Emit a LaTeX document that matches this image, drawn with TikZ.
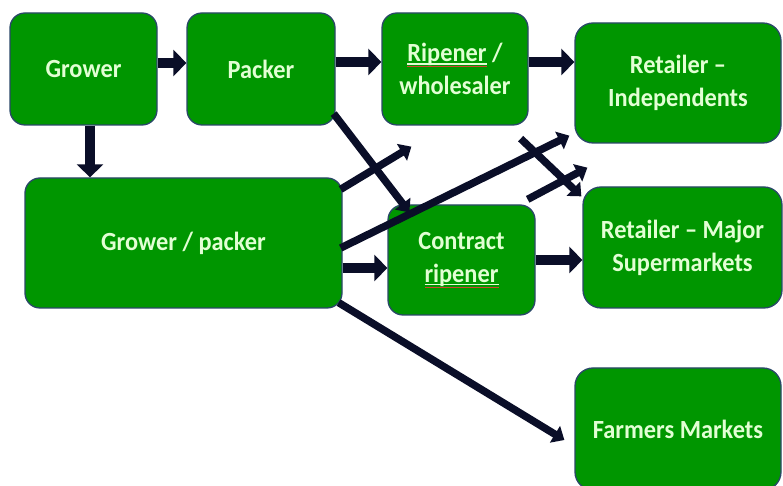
\documentclass[tikz,border=0pt]{standalone}
\usepackage{fontspec}
\setmainfont{Carlito}[FakeStretch=0.93]
\usetikzlibrary{arrows.meta}

\definecolor{boxgreen}{RGB}{0,150,0}
\definecolor{boxedge}{RGB}{42,72,104}
\definecolor{labeltext}{RGB}{226,255,212}
\definecolor{flow}{RGB}{10,14,40}
\definecolor{spellred}{RGB}{205,70,45}

% underlined word with a red proofing mark beneath it
\newlength\markwd
\newcommand\spellmark[1]{\settowidth\markwd{#1}%
  \rlap{\rule[-3pt]{\markwd}{1.1pt}}%
  \rlap{\textcolor{spellred}{\rule[-5.8pt]{\markwd}{0.9pt}}}#1}

\tikzset{
  box/.style={draw=boxedge, line width=1.3pt, fill=boxgreen,
    rounded corners=15pt, text=labeltext, align=center, inner sep=0pt,
    font=\fontsize{26.2}{33}\selectfont\bfseries},
  bigflow/.style={draw=flow, line width=10pt,
    -{Triangle[width=26pt,length=13pt]}},
  slimflow/.style={draw=flow, line width=7.5pt,
    -{Triangle[width=19pt,length=11pt]}},
}

\begin{document}
\begin{tikzpicture}[x=1pt,y=1pt]
\clip (0,0) rectangle (783,486);
\fill[white] (0,0) rectangle (783,486);

% boxes
\node[box, minimum width=147pt, minimum height=112pt] (grower)   at (83.5,417) {Grower};
\node[box, minimum width=148pt, minimum height=112pt] (packer)   at (261,417)  {Packer};
\node[box, minimum width=146pt, minimum height=112pt] (ripener)  at (455,417)  {\spellmark{Ripener} /\\wholesaler};
\node[box, minimum width=206pt, minimum height=120pt, rounded corners=18pt] (retind) at (678,403) {Retailer –\\Independents};
\node[box, minimum width=317pt, minimum height=130pt] (gp)       at (183.5,243) {Grower / packer};
\node[box, minimum width=147pt, minimum height=110pt] (contract) at (461.5,226) {Contract\\\spellmark{ripener}};
\node[box, minimum width=199pt, minimum height=121pt, rounded corners=18pt] (retmaj) at (682.5,238.5) {Retailer – Major\\Supermarkets};
\node[box, minimum width=206pt, minimum height=122pt, rounded corners=18pt] (farmers) at (678,57) {Farmers Markets};

% straight flows
\draw[bigflow] ([yshift=6pt]grower.east) -- ([yshift=6pt]packer.west);
\draw[bigflow] ([yshift=7pt]packer.east) -- ([yshift=7pt]ripener.west);
\draw[bigflow] ([yshift=7pt]ripener.east) -- ([yshift=7pt]ripener.east -| retind.west);
\draw[bigflow] ([xshift=6.5pt]grower.south) -- ([xshift=6.5pt]grower.south |- gp.north);
\draw[bigflow] ([yshift=-8pt]contract.west -| gp.east) -- ([yshift=-8pt]contract.west);
\draw[bigflow] (contract.east) -- (contract.east -| retmaj.west);

% crossing flows
\draw[slimflow] ([shift={(-2pt,12pt)}]packer.south east) -- ([shift={(22pt,-8pt)}]contract.north west);
\draw[slimflow] ([shift={(-2pt,-12pt)}]gp.north east) -- ([shift={(30pt,-21pt)}]ripener.south west);
\draw[slimflow] ([shift={(-2pt,-5pt)}]gp.east) -- ([shift={(-5pt,8pt)}]retind.south west);
\draw[slimflow] ([shift={(-4pt,6pt)}]gp.south east) -- ([shift={(-10pt,-11pt)}]farmers.west);
\draw[slimflow] ([shift={(-8pt,-13pt)}]ripener.south east) -- ([shift={(-1pt,-10pt)}]retmaj.north west);
\draw[slimflow] ([shift={(-8pt,5pt)}]contract.north east) -- ([shift={(13pt,-24pt)}]retind.south west);
\end{tikzpicture}
\end{document}
